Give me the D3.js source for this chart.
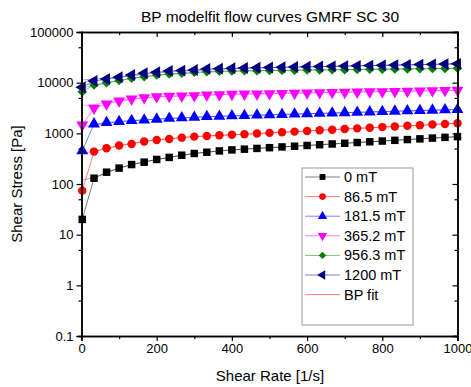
<!DOCTYPE html>
<html>
<head>
<meta charset="utf-8">
<script src="https://cdn.jsdelivr.net/npm/d3@7"></script>
<style>
  body { margin: 0; background: #fff; }
  svg { font-family: "Liberation Sans", Arial, sans-serif; }
</style>
</head>
<body>
<div id="chart"></div>
<script>
// shear rates of the measured points [1/s]
const shearRates = [2, 33.3, 66.7, 100, 133.3, 166.7, 200, 233.3, 266.7, 300, 333.3, 366.7,
  400, 433.3, 466.7, 500, 533.3, 566.7, 600, 633.3, 666.7, 700, 733.3, 766.7,
  800, 833.3, 866.7, 900, 933.3, 966.7, 1000];

// measured shear stress [Pa] per field strength
const stress0 = [20, 130, 171, 206, 242, 270, 305, 335, 370, 400, 424, 450,
  471, 487, 504, 521, 539, 557, 576, 596, 616, 637, 659, 681,
  704, 728, 753, 778, 805, 832, 861];
const stress86 = [74, 436, 507, 573, 618, 687, 741, 770, 822, 861, 889, 915,
  935, 964, 991, 1021, 1052, 1081, 1114, 1148, 1180, 1216, 1253, 1288,
  1327, 1368, 1406, 1449, 1493, 1535, 1581];
const stress181 = [450, 1530, 1630, 1700, 1780, 1830, 1900, 1980, 2020, 2070, 2140, 2170,
  2210, 2246, 2282, 2320, 2357, 2396, 2435, 2475, 2515, 2556, 2598, 2640,
  2683, 2727, 2771, 2816, 2862, 2909, 2950];
const stress365 = [1465, 3130, 3800, 4350, 4770, 5060, 5300, 5380, 5500, 5560, 5750, 5800,
  5900, 5960, 6021, 6083, 6146, 6209, 6273, 6337, 6403, 6469, 6535, 6602,
  6670, 6739, 6808, 6878, 6949, 7021, 7100];
const stress956 = [6650, 9000, 10000, 11000, 12200, 13100, 14200, 14800, 15300, 16000, 16500, 16800,
  17000, 17120, 17230, 17350, 17470, 17590, 17710, 17830, 17950, 18070, 18200, 18320,
  18450, 18570, 18700, 18830, 18950, 19080, 19200];
const stress1200 = [8120, 10800, 11800, 12800, 14200, 15300, 16000, 17000, 17300, 17800, 18700, 18900,
  19200, 19420, 19640, 19860, 20080, 20310, 20540, 20770, 21000, 21240, 21480, 21720,
  21970, 22220, 22470, 22720, 22980, 23240, 23500];

// BP model fit curves
const fitRates = [0, 33.3, 100, 200, 300, 400, 500, 600, 700, 800, 900, 1000];
const fit0 = [120, 135, 205, 305, 400, 471, 521, 576, 637, 704, 778, 861];
const fit86 = [400, 440, 573, 741, 861, 935, 1021, 1114, 1216, 1327, 1449, 1581];
const fit181 = [1370, 1450, 1700, 1900, 2070, 2210, 2320, 2435, 2556, 2683, 2816, 2950];
const fit365 = [3500, 3700, 4350, 5200, 5550, 5900, 6083, 6273, 6469, 6670, 6878, 7100];
const fit956 = [8000, 8700, 11000, 14000, 15500, 16700, 17350, 17710, 18070, 18450, 18830, 19200];
const fit1200 = [11300, 11800, 12800, 15500, 17300, 18800, 19860, 20540, 21240, 21970, 22720, 23500];

const seriesNames = ['0 mT', '86.5 mT', '181.5 mT', '365.2 mT', '956.3 mT', '1200 mT'];
const xTicks = [0, 200, 400, 600, 800, 1000];
const yTicks = [0.1, 1, 10, 100, 1000, 10000, 100000];
const yTickLabels = ['0.1', '1', '10', '100', '1000', '10000', '100000'];

const width = 471;
const height = 387;
const margin = { top: 32, right: 13.5, bottom: 51, left: 81.5 };

const series = [
  { name: seriesNames[0], data: stress0, fit: fit0, color: '#000000', shape: 'square' },
  { name: seriesNames[1], data: stress86, fit: fit86, color: '#ff0000', shape: 'circle' },
  { name: seriesNames[2], data: stress181, fit: fit181, color: '#0000ff', shape: 'up' },
  { name: seriesNames[3], data: stress365, fit: fit365, color: '#ff00ff', shape: 'down' },
  { name: seriesNames[4], data: stress956, fit: fit956, color: '#008000', shape: 'diamond' },
  { name: seriesNames[5], data: stress1200, fit: fit1200, color: '#000080', shape: 'left' }
];

const svg = d3.select('#chart')
  .append('svg')
  .attr('width', width)
  .attr('height', height);

const x = d3.scaleLinear()
  .domain([0, 1000])
  .range([margin.left, width - margin.right]);

const y = d3.scaleLog()
  .domain([0.1, 100000])
  .range([height - margin.bottom, margin.top]);

// marker path for one shape
function marker(shape, s) {
  if (shape === 'square') return d3.symbol(d3.symbolSquare, s)();
  if (shape === 'circle') return d3.symbol(d3.symbolCircle, s)();
  if (shape === 'diamond') return d3.symbol(d3.symbolSquare, s * 0.8)();
  return d3.symbol(d3.symbolTriangle, s * 1.1)();
}
function rotation(shape) {
  if (shape === 'down') return 180;
  if (shape === 'left') return -90;
  if (shape === 'diamond') return 45;
  return 0;
}

const plot = svg.append('g');

// fit curves
const fitLine = d3.line()
  .x((d, i) => x(fitRates[i]))
  .y(d => y(d))
  .curve(d3.curveMonotoneX);

series.forEach(s => {
  plot.append('path')
    .attr('d', fitLine(s.fit))
    .attr('fill', 'none')
    .attr('stroke', s.color)
    .attr('stroke-opacity', 0.35)
    .attr('stroke-width', 1);
});

// data lines and markers
const dataLine = d3.line()
  .x((d, i) => x(shearRates[i]))
  .y(d => y(d));

series.forEach(s => {
  plot.append('path')
    .attr('d', dataLine(s.data))
    .attr('fill', 'none')
    .attr('stroke', s.color)
    .attr('stroke-opacity', 0.5)
    .attr('stroke-width', 1);

  plot.selectAll(null)
    .data(s.data)
    .enter()
    .append('path')
    .attr('d', marker(s.shape, 56))
    .attr('transform', (d, i) => 'translate(' + x(shearRates[i]) + ',' + y(d) + ') rotate(' + rotation(s.shape) + ')')
    .attr('fill', s.color);
});

// axes
const fmtY = d => yTickLabels[yTicks.indexOf(d)];
const minorY = [];
yTicks.slice(0, -1).forEach(v => minorY.push(v * 5));
const minorX = [100, 300, 500, 700, 900];

function styleAxis(g) {
  g.select('.domain').attr('stroke', '#000').attr('stroke-width', 1.5);
  g.selectAll('.tick line').attr('stroke', '#000').attr('stroke-width', 1.2);
  g.selectAll('.tick text').attr('font-size', 13).attr('fill', '#000')
    .attr('font-family', '"Liberation Sans", Arial, sans-serif');
}

svg.append('g')
  .attr('transform', 'translate(0,' + (height - margin.bottom) + ')')
  .call(d3.axisBottom(x).tickValues(xTicks).tickSize(5).tickPadding(3).tickFormat(d3.format('d')))
  .call(styleAxis);
svg.append('g')
  .attr('transform', 'translate(0,' + (height - margin.bottom) + ')')
  .call(d3.axisBottom(x).tickValues(minorX).tickSize(3).tickFormat(''))
  .call(styleAxis);

svg.append('g')
  .attr('transform', 'translate(0,' + margin.top + ')')
  .call(d3.axisBottom(x).tickValues(xTicks).tickSize(5).tickFormat(''))
  .call(styleAxis);
svg.append('g')
  .attr('transform', 'translate(0,' + margin.top + ')')
  .call(d3.axisBottom(x).tickValues(minorX).tickSize(3).tickFormat(''))
  .call(styleAxis);

svg.append('g')
  .attr('transform', 'translate(' + margin.left + ',0)')
  .call(d3.axisLeft(y).tickValues(yTicks).tickSize(5).tickPadding(3).tickFormat(fmtY))
  .call(styleAxis);
svg.append('g')
  .attr('transform', 'translate(' + margin.left + ',0)')
  .call(d3.axisLeft(y).tickValues(minorY).tickSize(3).tickFormat(''))
  .call(styleAxis);

svg.append('g')
  .attr('transform', 'translate(' + (width - margin.right) + ',0)')
  .call(d3.axisLeft(y).tickValues(yTicks).tickSize(5).tickFormat(''))
  .call(styleAxis);
svg.append('g')
  .attr('transform', 'translate(' + (width - margin.right) + ',0)')
  .call(d3.axisLeft(y).tickValues(minorY).tickSize(3).tickFormat(''))
  .call(styleAxis);

// title and axis titles
svg.append('text')
  .attr('x', 270)
  .attr('y', 22)
  .attr('text-anchor', 'middle')
  .attr('font-size', 15.5)
  .text('BP modelfit flow curves GMRF SC 30');

svg.append('text')
  .attr('x', 270)
  .attr('y', 381)
  .attr('text-anchor', 'middle')
  .attr('font-size', 15)
  .text('Shear Rate [1/s]');

svg.append('text')
  .attr('transform', 'translate(22,184) rotate(-90)')
  .attr('text-anchor', 'middle')
  .attr('font-size', 15)
  .text('Shear Stress [Pa]');

// legend
const legend = svg.append('g').attr('transform', 'translate(302,168)');
legend.append('rect')
  .attr('width', 111)
  .attr('height', 157)
  .attr('fill', '#fff')
  .attr('stroke', '#999')
  .attr('stroke-width', 1);

series.forEach((s, i) => {
  const row = legend.append('g').attr('transform', 'translate(0,' + (9 + i * 19.6) + ')');
  row.append('line')
    .attr('x1', 3).attr('x2', 38)
    .attr('stroke', s.color).attr('stroke-opacity', 0.5);
  row.append('path')
    .attr('d', marker(s.shape, 34))
    .attr('transform', 'translate(20.5,0) rotate(' + rotation(s.shape) + ')')
    .attr('fill', s.color);
  row.append('text')
    .attr('x', 42).attr('dy', '0.35em')
    .attr('font-size', 14.5)
    .text(s.name);
});

const fitRow = legend.append('g').attr('transform', 'translate(0,' + (9 + 6 * 19.6) + ')');
fitRow.append('line')
  .attr('x1', 3).attr('x2', 38)
  .attr('stroke', '#ff0000').attr('stroke-opacity', 0.5);
fitRow.append('text')
  .attr('x', 42).attr('dy', '0.35em')
  .attr('font-size', 14.5)
  .text('BP fit');
</script>
</body>
</html>
